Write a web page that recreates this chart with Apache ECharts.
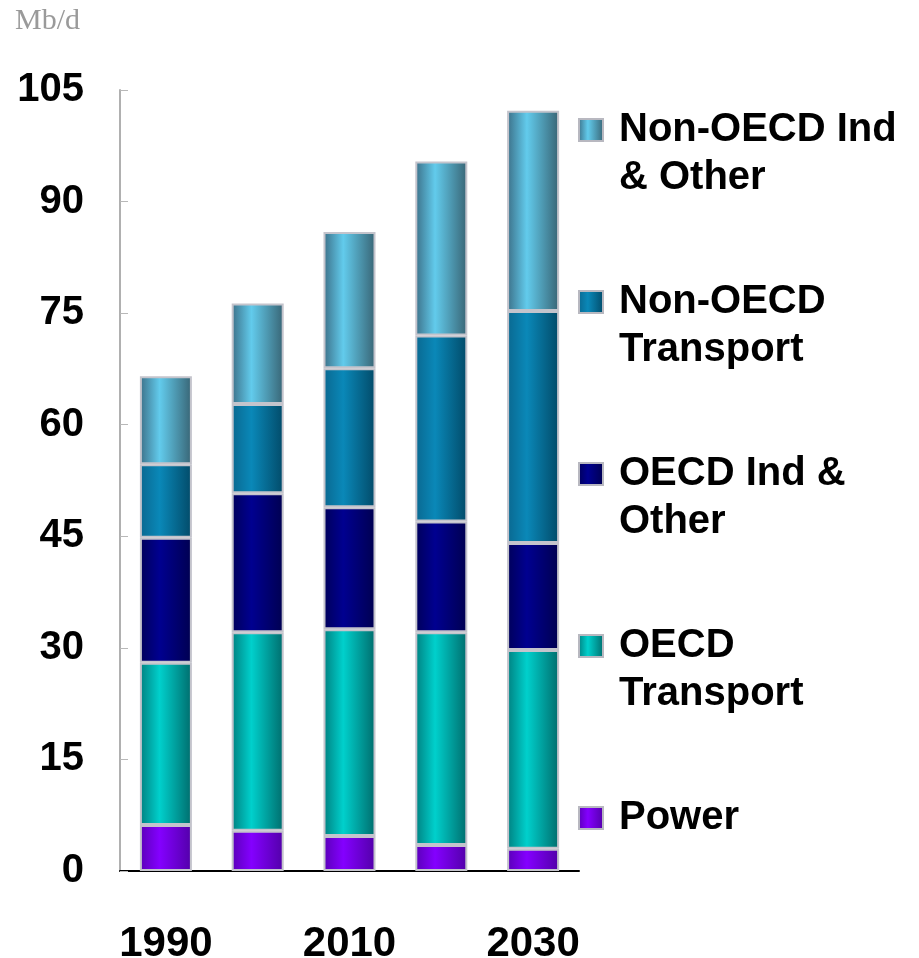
<!DOCTYPE html>
<html>
<head>
<meta charset="utf-8">
<script src="https://cdn.jsdelivr.net/npm/echarts@6/dist/echarts.min.js"></script>
<style>
  html, body { margin: 0; padding: 0; background: #fff; }
  #main { width: 919px; height: 958px; }
</style>
</head>
<body>
<div id="main"></div>
<script>
// years on the x axis (only every other one is labelled)
const years = ['1990', '2000', '2010', '2020', '2030'];
const yTicks = [0, 15, 30, 45, 60, 75, 90, 105];

// Mb/d per sector, stacked bottom -> top
const power            = [6.2, 5.4, 4.7, 3.5, 3.0];
const oecdTransport    = [21.8, 26.7, 27.8, 28.6, 26.7];
const oecdIndOther     = [16.8, 18.7, 16.4, 14.9, 14.4];
const nonOecdTransport = [9.9, 12.0, 18.7, 25.0, 31.2];
const nonOecdIndOther  = [11.8, 13.5, 18.3, 23.4, 26.9];

// legend text, line by line
const legendLines = {
  'Non-OECD Ind & Other': ['Non-OECD Ind', '& Other'],
  'Non-OECD Transport': ['Non-OECD', 'Transport'],
  'OECD Ind & Other': ['OECD Ind &', 'Other'],
  'OECD Transport': ['OECD', 'Transport'],
  'Power': ['Power', ' ']
};

function cyl(edgeL, mid, edgeR) {
  return new echarts.graphic.LinearGradient(0, 0, 1, 0, [
    { offset: 0, color: edgeL },
    { offset: 0.38, color: mid },
    { offset: 1, color: edgeR }
  ]);
}

function bar(name, data, fill) {
  return {
    name: name,
    type: 'bar',
    stack: 'total',
    barWidth: 52,
    data: data,
    itemStyle: { color: fill, borderColor: '#c4c4cc', borderWidth: 2 }
  };
}

var chart = echarts.init(document.getElementById('main'));
var option = {
  animation: false,
  title: {
    text: 'Mb/d',
    left: 10, top: 1,
    textStyle: { fontFamily: 'Liberation Serif', fontWeight: 'normal', fontSize: 30, color: '#9a9a9a' }
  },
  grid: { left: 120, right: 340, top: 90, bottom: 87, outerBoundsMode: 'none' },
  legend: {
    orient: 'vertical',
    left: 578, top: 62, height: 890,
    padding: 0,
    itemWidth: 24, itemHeight: 22,
    itemGap: 36,
    icon: 'rect',
    data: ['Non-OECD Ind & Other', 'Non-OECD Transport', 'OECD Ind & Other', 'OECD Transport', 'Power'],
    // an empty first line keeps the icon level with the first text line
    formatter: function (n) {
      var l = legendLines[n];
      return '{e| }\n{t|' + l[0] + '}\n{t|' + l[1] + '}';
    },
    textStyle: {
      rich: {
        e: { fontSize: 40, lineHeight: 48 },
        t: {
          fontFamily: 'Liberation Sans', fontWeight: 'bold', fontSize: 40, lineHeight: 48,
          color: '#000', padding: [0, 0, 0, 11]
        }
      }
    },
    itemStyle: { borderColor: '#b8b8c0', borderWidth: 2 }
  },
  xAxis: {
    type: 'category',
    data: years,
    axisLine: { lineStyle: { color: '#000', width: 2 } },
    axisTick: { show: false },
    axisLabel: {
      interval: 1, margin: 52,
      fontFamily: 'Liberation Sans', fontWeight: 'bold', fontSize: 42, color: '#000'
    }
  },
  yAxis: {
    type: 'value',
    min: 0, max: 105, interval: 15,
    splitLine: { show: false },
    axisLine: { show: true, lineStyle: { color: '#b0b0b0', width: 2 } },
    axisTick: { show: true, inside: true, length: 8, lineStyle: { color: '#b8b8b8' } },
    axisLabel: {
      margin: 36,
      fontFamily: 'Liberation Sans', fontWeight: 'bold', fontSize: 40, color: '#000',
      formatter: function (v) { return yTicks.indexOf(v) >= 0 ? String(v) : ''; }
    }
  },
  series: [
    bar('Power', power, cyl('#5a00b8', '#8400ff', '#5200a8')),
    bar('OECD Transport', oecdTransport, cyl('#008080', '#00d0cc', '#006c6c')),
    bar('OECD Ind & Other', oecdIndOther, cyl('#00005a', '#000090', '#000050')),
    bar('Non-OECD Transport', nonOecdTransport, cyl('#0a6890', '#0a88b8', '#024a68')),
    bar('Non-OECD Ind & Other', nonOecdIndOther, cyl('#3c7088', '#62cbec', '#386474'))
  ]
};
chart.setOption(option);
</script>
</body>
</html>
